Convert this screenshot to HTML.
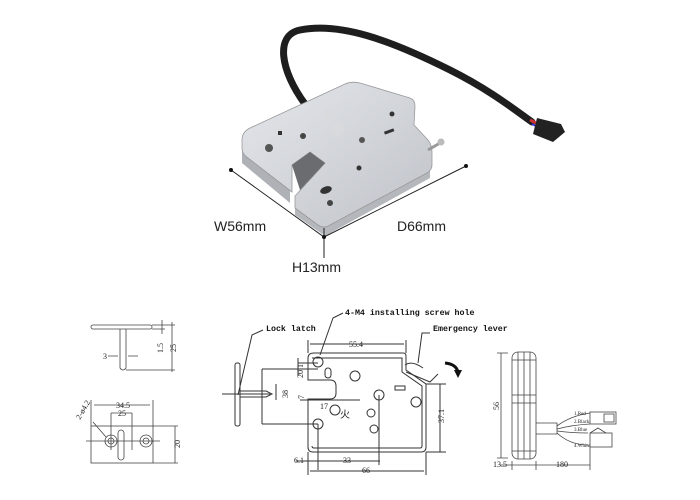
<!DOCTYPE html>
<html><head><meta charset="utf-8"><style>
html,body{margin:0;padding:0;background:#fff}
svg{display:block}
.d{font-family:"Liberation Serif",serif;font-size:8px;fill:#222}
.b{font-family:"Liberation Mono",monospace;font-weight:bold;font-size:8.3px;fill:#111}
.p{font-family:"Liberation Sans",sans-serif;font-size:14px;fill:#222}
</style></head><body>
<svg width="700" height="500" viewBox="0 0 700 500" xmlns="http://www.w3.org/2000/svg">
<defs>
<linearGradient id="m" x1="0" y1="0" x2="1" y2="1">
<stop offset="0" stop-color="#e4e6ea"/><stop offset="0.5" stop-color="#d2d5da"/><stop offset="1" stop-color="#bfc2c8"/></linearGradient>
</defs>
<!-- cable -->
<path d="M305 104 C280 70 275 35 300 30 C340 22 390 40 450 70 C490 90 515 110 532 122" fill="none" stroke="#1e1e1e" stroke-width="7" stroke-linecap="round"/>
<path d="M530 120 l8 4" stroke="#c33" stroke-width="3"/>
<path d="M532 124 l8 4" stroke="#33c" stroke-width="2"/>
<path d="M537 118 l24 6 l4 8 l-12 10 l-20 -8 z" fill="#222"/>
<!-- lock body -->
<path d="M242 150 L242 163 L290 203 L290 190 Z" fill="#aeb1b6"/>
<path d="M295 205 L295 215 L325 236 L430 178 L430 166 L325 226 Z" fill="#b4b7bc"/>
<path d="M242 140 Q242 132 250 128 L345 84 Q352 81 360 83 L410 98 Q415 100 415 106 L414 125 L428 140 Q432 145 432 152 L432 165 Q432 170 427 173 L330 225 Q324 229 318 225 L295 208 L295 196 L325 163 L310 152 L292 165 L292 192 L248 158 Q242 154 242 148 Z" fill="url(#m)" stroke="#999" stroke-width="0.8"/>
<path d="M292 165 L310 152 L325 163 L300 190 Z" fill="#6a6c70"/>
<circle cx="269" cy="148" r="4" fill="#555"/><circle cx="303" cy="136" r="3" fill="#444"/>
<rect x="278" y="131" width="4" height="4" fill="#333"/>
<circle cx="330" cy="116" r="6" fill="#d8dadd"/><circle cx="338" cy="130" r="6" fill="#d8dadd"/>
<circle cx="362" cy="140" r="3" fill="#555"/><circle cx="392" cy="114" r="2.5" fill="#333"/>
<rect x="384" y="130" width="10" height="3" fill="#333" transform="rotate(-20 389 131)"/>
<circle cx="359" cy="168" r="2.5" fill="#333"/>
<ellipse cx="326" cy="190" rx="6" ry="3.5" fill="#333" transform="rotate(-20 326 190)"/>
<circle cx="330" cy="203" r="3" fill="#444"/>
<path d="M428 150 L440 143" stroke="#999" stroke-width="3"/><circle cx="441" cy="142" r="3.5" fill="#bbb"/>
<!-- dims photo -->
<g stroke="#222" stroke-width="1" fill="none"><path d="M231 170 L324 237 L466 166"/><path d="M324 228 L324 258"/></g>
<circle cx="231" cy="170" r="2" fill="#111"/><circle cx="466" cy="166" r="2" fill="#111"/><circle cx="324" cy="237" r="2" fill="#111"/>
<text class="p" x="214" y="231">W56mm</text><text class="p" x="397" y="231">D66mm</text><text class="p" x="292" y="272">H13mm</text>

<!-- left drawings -->
<g fill="none" stroke="#444" stroke-width="0.8">
<rect x="91" y="325" width="61" height="4" rx="2"/>
<path d="M120 329 V368 Q123 372 126 368 V329"/>
<path d="M152 325 H175 M152 329 H165 M126 370 H175 M172 322 V372 M162 320 V334"/>
<path d="M108 356 H118 M128 356 H138"/>
<rect x="91" y="426" width="62" height="37"/>
<path d="M91 400 V426 M153 400 V426 M94 405 H150 M111 413 H132 M111 413 V450 M132 413 V450 M153 426 H178 M153 463 H178 M175 426 V463 M86 441 H160"/>
<circle cx="111" cy="441" r="6"/><circle cx="111" cy="441" r="3"/>
<circle cx="146" cy="441" r="6"/><circle cx="146" cy="441" r="3"/>
<rect x="118" y="430" width="6" height="30" rx="3"/>
<path d="M93 422 L106 437"/>
</g>
<text class="d" x="103" y="359">3</text>
<text class="d" x="116" y="408">34.5</text><text class="d" x="118" y="416">25</text>
<text class="d" transform="translate(163 353) rotate(-90)">1.5</text>
<text class="d" transform="translate(176 352) rotate(-90)">25</text>
<text class="d" transform="translate(180 448) rotate(-90)">20</text>
<text class="d" transform="translate(80 420) rotate(-60)">2-ø4.2</text>

<!-- middle drawing -->
<g fill="none" stroke="#333" stroke-width="1">
<path d="M314 353 H403 Q406 353 406 356 V370 L426 384 V447 Q426 452 421 452 H313 Q308 452 308 447 V399 H330 Q336 399 336 393 V386 Q336 380 330 380 H308 V358 Q308 353 314 353 Z"/>
<path d="M312 358 H402 V372 L422 386 V446 Q422 448 420 448 H314 Q312 448 312 446"/>
<rect x="235" y="363" width="5" height="63" rx="2"/>
<path d="M222 394 H270 M240 391 H266 L272 394 L266 397 H240"/>
<path d="M405 365 Q412 360 423 368 M406 372 L430 382 L438 374"/>
<circle cx="318" cy="362" r="5"/><circle cx="318" cy="424" r="5"/><circle cx="379" cy="395" r="5"/>
<circle cx="355" cy="376" r="5"/><circle cx="335" cy="410" r="5"/><circle cx="371" cy="413" r="4"/>
<circle cx="374" cy="429" r="4"/><circle cx="416" cy="402" r="5"/>
<rect x="395" y="386" width="10" height="4"/>
<rect x="325" y="368" width="6" height="10" rx="3"/>
<path d="M308 340 V353 M406 340 V353 M310 344 H404"/>
<path d="M298 363 H318 M298 358 V376 M262 369 H318 M262 369 V424 M262 424 H318 M276 384 V400"/>
<path d="M300 400 H360 M318 424 V470 M440 384 V452 M426 384 H446 M426 452 H446"/>
<path d="M308 452 V475 M426 452 V475 M310 471 H424 M296 461 H380 M379 395 V465"/>
<path d="M343 313 L333 318 L320 355 M263 330 L252 335 L238 395 M430 333 L422 333 L418 363"/>
</g>
<path d="M445 363 Q456 364 458 372" fill="none" stroke="#111" stroke-width="3"/><path d="M454 370 L462 370 L458 378 Z" fill="#111"/>
<text class="b" x="345" y="315">4-M4 installing screw hole</text>
<text class="b" x="266" y="331">Lock latch</text>
<text class="b" x="433" y="331">Emergency lever</text>
<text class="d" x="349" y="347">55.4</text>
<text class="d" transform="translate(303 378) rotate(-90)">20.1</text>
<text class="d" transform="translate(288 398) rotate(-90)">38</text>
<text class="d" transform="translate(304 399) rotate(-90)">7</text>
<text class="d" x="320" y="409">17</text>
<text class="d" transform="translate(444 423) rotate(-90)">37.1</text>
<text class="d" x="294" y="463">6.1</text><text class="d" x="343" y="463">33</text><text class="d" x="362" y="473">66</text>
<text class="d" x="340" y="418" style="font-size:10px">火</text>

<!-- right drawing -->
<g fill="none" stroke="#444" stroke-width="0.8">
<rect x="512" y="352" width="24" height="107" rx="6"/>
<path d="M518 352 V459 M524 352 V459 M530 352 V459 M512 360 H536 M512 451 H536 M512 395 H536 M512 403 H536"/>
<path d="M508 353 H497 M508 458 H497 M501 353 V458"/>
<path d="M536 423 H557 V434 H536"/>
<path d="M557 426 Q570 416 590 413 M557 429 Q572 425 590 424 M557 431 Q572 433 588 433 M557 433 Q570 445 588 445"/>
<rect x="590" y="412" width="26" height="12"/><rect x="604" y="414" width="10" height="8"/>
<rect x="590" y="433" width="22" height="14"/><path d="M590 433 L598 428 L606 433"/>
<path d="M512 461 V470 M536 461 V470 M590 447 V470 M500 465 H590"/>
</g>
<text class="d" transform="translate(499 410) rotate(-90)">56</text>
<text class="d" x="493" y="467">13.5</text><text class="d" x="556" y="467">180</text>
<text class="d" x="574" y="415" style="font-size:5px">1.Red</text>
<text class="d" x="574" y="423" style="font-size:5px">2.Black</text>
<text class="d" x="574" y="431" style="font-size:5px">3.Blue</text>
<text class="d" x="574" y="447" style="font-size:5px">4.White</text>
</svg>
</body></html>
